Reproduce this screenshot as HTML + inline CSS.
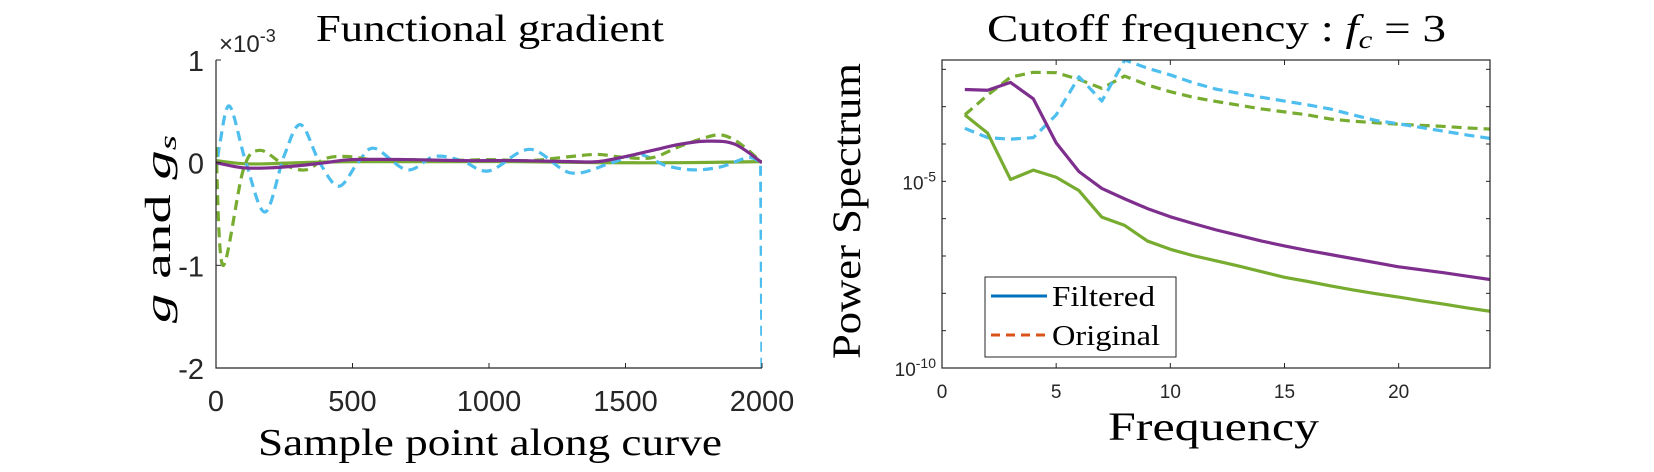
<!DOCTYPE html>
<html><head><meta charset="utf-8"><style>
html,body{margin:0;padding:0;background:#fff}
svg{display:block}
.tk{font-family:"Liberation Sans",sans-serif;fill:#262626}
.sr{font-family:"Liberation Serif",serif;fill:#000}
</style></head><body>
<svg id="fig" width="1654" height="472" viewBox="0 0 1654 472" xmlns="http://www.w3.org/2000/svg">
<defs>
<clipPath id="clipL"><rect x="216" y="60" width="546" height="308"/></clipPath>
<clipPath id="clipR"><rect x="942" y="60" width="548" height="308"/></clipPath>
</defs>
<g id="left"></g>
<g id="right"></g>
<text class="sr" x="316" y="41" font-size="38" textLength="348" lengthAdjust="spacingAndGlyphs">Functional gradient</text>
<text class="tk" x="219" y="52" font-size="24">×10<tspan dy="-10" font-size="18">-3</tspan></text>
<text class="sr" transform="translate(170,229) rotate(-90)" font-size="36" text-anchor="middle" textLength="188" lengthAdjust="spacingAndGlyphs"><tspan font-style="italic">g</tspan> and <tspan font-style="italic">g</tspan><tspan font-style="italic" font-size="24" dy="6">s</tspan></text>
<text class="sr" x="258" y="455" font-size="38" textLength="464" lengthAdjust="spacingAndGlyphs">Sample point along curve</text>
<text class="sr" x="987" y="41" font-size="38" textLength="459" lengthAdjust="spacingAndGlyphs">Cutoff frequency : <tspan font-style="italic">f</tspan><tspan font-style="italic" font-size="25" dy="7">c</tspan><tspan dy="-7"> = 3</tspan></text>
<text class="sr" transform="translate(860,211) rotate(-90)" font-size="40" text-anchor="middle" textLength="296" lengthAdjust="spacingAndGlyphs">Power Spectrum</text>
<text class="sr" x="1108" y="440" font-size="40" textLength="211" lengthAdjust="spacingAndGlyphs">Frequency</text>
<g>
<rect x="985" y="277" width="191" height="80" fill="#fff" stroke="#262626" stroke-width="1"/>
<line x1="991" y1="296" x2="1047" y2="296" stroke="#0072BD" stroke-width="3"/>
<text class="sr" x="1052" y="306" font-size="28" textLength="103" lengthAdjust="spacingAndGlyphs">Filtered</text>
<line x1="991" y1="335" x2="1047" y2="335" stroke="#D95319" stroke-width="3" stroke-dasharray="9,6"/>
<text class="sr" x="1052" y="345" font-size="28" textLength="108" lengthAdjust="spacingAndGlyphs">Original</text>
</g>
</svg>
<script>
// ---- Left chart data (values in units of 1e-3) ----
const purpleS = [0,100,200,300,400,500,700,900,1100,1300,1400,1500,1600,1700,1800,1900,2000];
const purpleV = [0,-0.05,-0.05,-0.03,0,0.03,0.03,0.02,0.02,0.01,0.01,0.06,0.12,0.18,0.21,0.18,0];
const greenS = [0,100,200,300,500,800,1100,1400,1700,2000];
const greenV = [0.02,-0.01,-0.01,0,0.01,0.01,0.01,0,0,0.01];
const greenDS = [0,25,100,160,250,330,400,480,600,700,850,1000,1150,1300,1400,1500,1600,1700,1800,1850,1900,1950,2000];
const greenDV = [0.15,-1.0,-0.07,0.12,-0.02,-0.07,0.04,0.06,0.02,0.03,0.02,0.03,0.02,0.06,0.08,0.05,0.05,0.16,0.25,0.27,0.22,0.12,0];
const blueS = [0,15,50,110,180,250,310,380,450,520,580,700,800,900,1000,1150,1300,1450,1550,1650,1750,1850,1950,1995,2000];
const blueV = [-0.1,0.2,0.55,0,-0.48,0.07,0.37,0,-0.23,0.0,0.14,-0.07,0.06,0.02,-0.08,0.13,-0.1,0,0.08,-0.03,-0.07,-0.04,0.05,0,-2];
const leftXTicks = [0,500,1000,1500,2000];
const leftYTicks = [1,0,-1,-2];
// ---- Right chart data (log10 power) ----
const freq = [1,2,3,4,5,6,7,8,9,10,11,12,13,14,15,16,17,18,19,20,21,22,23,24];
const purpleP = [-2.54,-2.56,-2.35,-2.79,-3.97,-4.74,-5.19,-5.47,-5.73,-5.95,-6.13,-6.30,-6.45,-6.60,-6.73,-6.85,-6.96,-7.07,-7.18,-7.29,-7.37,-7.45,-7.54,-7.63];
const greenP = [-3.22,-3.71,-4.95,-4.70,-4.89,-5.25,-5.96,-6.18,-6.60,-6.82,-6.99,-7.13,-7.27,-7.42,-7.57,-7.68,-7.80,-7.91,-8.01,-8.10,-8.20,-8.29,-8.39,-8.48];
const greenOP = [-3.22,-2.69,-2.21,-2.08,-2.09,-2.27,-2.51,-2.18,-2.42,-2.60,-2.75,-2.86,-2.96,-3.06,-3.14,-3.22,-3.33,-3.39,-3.43,-3.47,-3.50,-3.53,-3.57,-3.60];
const blueOP = [-3.58,-3.83,-3.87,-3.83,-3.22,-2.20,-2.85,-1.75,-1.97,-2.15,-2.36,-2.53,-2.64,-2.75,-2.85,-2.95,-3.06,-3.22,-3.37,-3.46,-3.56,-3.66,-3.76,-3.85];
const rightXTicks = [0,5,10,15,20];
const rightYMajor = [-5,-10];
const rightYMinor = [-2,-3,-4,-6,-7,-8,-9];

const NS='http://www.w3.org/2000/svg';
function mk(tag, attrs, parent){const e=document.createElementNS(NS,tag);for(const k in attrs)e.setAttribute(k,attrs[k]);parent.appendChild(e);return e;}
const C={purple:'#7E2F8E',green:'#77AC30',blue:'#4DBEEE'};
// Left axes
const L={x0:216,x1:762,y0:60,y1:368};
const lx=s=>L.x0+(s/2000)*(L.x1-L.x0);
const ly=v=>L.y0+(1-v)/3*(L.y1-L.y0);
const gl=document.getElementById('left');
function spline(pts){let d='M'+pts[0][0]+','+pts[0][1];for(let i=0;i<pts.length-1;i++){const p0=pts[Math.max(0,i-1)],p1=pts[i],p2=pts[i+1],p3=pts[Math.min(pts.length-1,i+2)];const c1=[p1[0]+(p2[0]-p0[0])/6,p1[1]+(p2[1]-p0[1])/6];const c2=[p2[0]-(p3[0]-p1[0])/6,p2[1]-(p3[1]-p1[1])/6];d+=` C${c1[0]},${c1[1]} ${c2[0]},${c2[1]} ${p2[0]},${p2[1]}`;}return d;}
const clipL=mk('g',{'clip-path':'url(#clipL)'},gl);
function leftSeries(S,V,color,dash,name,dropLast){
  let pts=S.map((s,i)=>[lx(s),ly(V[i])]);
  let d;
  if(dropLast){const last=pts.pop();d=spline(pts)+' L'+last[0]+','+last[1];}else d=spline(pts);
  const p=mk('path',{d:d,fill:'none',stroke:color,'stroke-width':3.2,'stroke-dasharray':dash||'none','stroke-linejoin':'round'},clipL);
  
  
}
leftSeries(greenS,greenV,C.green,null,'green-filtered-gradient',false);
leftSeries(blueS,blueV,C.blue,'10,6','blue-original-gradient',true);
leftSeries(greenDS,greenDV,C.green,'10,6','green-original-gradient',false);
leftSeries(purpleS,purpleV,C.purple,null,'purple-filtered-gradient',false);
mk('path',{d:`M${L.x0},${L.y0} V${L.y1} H${L.x1}`,fill:'none',stroke:'#262626','stroke-width':1.2},gl);
leftXTicks.forEach(t=>{
  mk('line',{x1:lx(t),x2:lx(t),y1:L.y1,y2:L.y1-5,stroke:'#262626','stroke-width':1},gl);
  const tx=mk('text',{x:lx(t),y:L.y1+43,'font-size':29,'text-anchor':'middle',class:'tk'},gl);tx.textContent=t;
  
  
});
leftYTicks.forEach(t=>{
  mk('line',{x1:L.x0,x2:L.x0+5,y1:ly(t),y2:ly(t),stroke:'#262626','stroke-width':1},gl);
  const tx=mk('text',{x:L.x0-12,y:ly(t)+11,'font-size':29,'text-anchor':'end',class:'tk'},gl);tx.textContent=t;
  
  
});
// Right axes
const R={x0:942,x1:1490,y0:60,y1:368,top:-1.75,bot:-10};
const rx=f=>R.x0+f/24*(R.x1-R.x0);
const ry=l=>R.y0+(R.top-l)/(R.top-R.bot)*(R.y1-R.y0);
const gr=document.getElementById('right');
const clipR=mk('g',{'clip-path':'url(#clipR)'},gr);
function rightSeries(P,color,dash,name){
  const p=mk('polyline',{points:freq.map((f,i)=>rx(f)+','+ry(P[i])).join(' '),fill:'none',stroke:color,'stroke-width':3.2,'stroke-dasharray':dash||'none','stroke-linejoin':'round'},clipR);
  
  
}
rightSeries(greenOP,C.green,'10,6','green-original-spectrum');
rightSeries(blueOP,C.blue,'10,6','blue-original-spectrum');
rightSeries(greenP,C.green,null,'green-filtered-spectrum');
rightSeries(purpleP,C.purple,null,'purple-filtered-spectrum');
mk('rect',{x:R.x0,y:R.y0,width:R.x1-R.x0,height:R.y1-R.y0,fill:'none',stroke:'#262626','stroke-width':1.2},gr);
rightXTicks.forEach(t=>{
  mk('line',{x1:rx(t),x2:rx(t),y1:R.y1,y2:R.y1-5,stroke:'#262626','stroke-width':1},gr);
  mk('line',{x1:rx(t),x2:rx(t),y1:R.y0,y2:R.y0+5,stroke:'#262626','stroke-width':1},gr);
  const tx=mk('text',{x:rx(t),y:R.y1+30,'font-size':19,'text-anchor':'middle',class:'tk'},gr);tx.textContent=t;
  
  
});
rightYMinor.concat(rightYMajor).forEach(t=>{
  mk('line',{x1:R.x0,x2:R.x0+4,y1:ry(t),y2:ry(t),stroke:'#262626','stroke-width':1},gr);
  mk('line',{x1:R.x1,x2:R.x1-4,y1:ry(t),y2:ry(t),stroke:'#262626','stroke-width':1},gr);
});
rightYMajor.forEach(t=>{
  const tx=mk('text',{x:R.x0-6,y:ry(t)+8,'font-size':19,'text-anchor':'end',class:'tk'},gr);
  tx.innerHTML='10<tspan dy="-8" font-size="14">'+t+'</tspan>';
  
  
});
</script>
</body></html>
